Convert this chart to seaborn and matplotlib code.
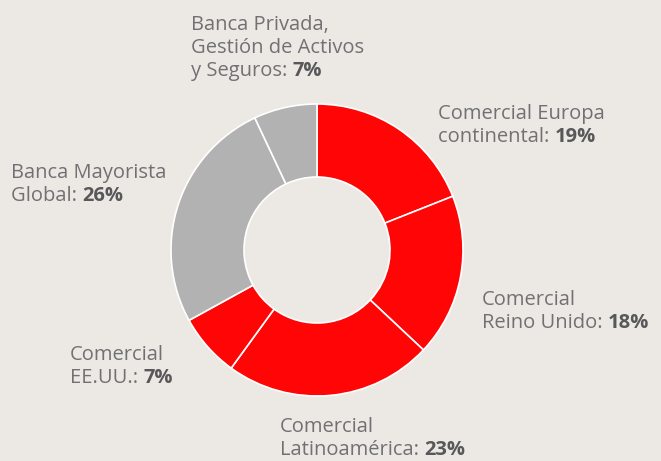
import matplotlib
matplotlib.use("Agg")
import matplotlib.pyplot as plt
import seaborn as sns

# datos del gráfico (sentido horario desde arriba)
segmentos = [["Comercial Europa", "continental: "],
             ["Comercial", "Reino Unido: "],
             ["Comercial", "Latinoamérica: "],
             ["Comercial", "EE.UU.: "],
             ["Banca Mayorista", "Global: "],
             ["Banca Privada,", "Gestión de Activos", "y Seguros: "]]
porcentajes = [19, 18, 23, 7, 26, 7]
colores = ["#ff0505", "#ff0505", "#ff0505", "#ff0505", "#b2b2b2", "#b2b2b2"]

# posición de cada etiqueta: x izquierda y línea base de la 1ª línea (px desde arriba-izquierda)
pos_etiquetas = [(438, 119), (482, 305), (280, 432),
                 (70, 360), (11, 178), (191, 30)]
PASO = 23  # interlineado en px

sns.set_theme(style="white")
plt.rcParams["font.family"] = ["Open Sans", "DejaVu Sans"]

fondo = "#ece9e4"
gris_txt = "#717173"
gris_bold = "#58585a"
FS = 14.5

W, H = 661, 461
fig = plt.figure(figsize=(W / 100, H / 100), dpi=100, facecolor=fondo)
cx, cy, r = 317 / W, 1 - 250 / H, 146
ax = fig.add_axes([cx - r / W, cy - r / H, 2 * r / W, 2 * r / H])
ax.set_facecolor(fondo)

ax.pie(porcentajes, colors=colores, startangle=90, counterclock=False, radius=1,
       wedgeprops=dict(width=0.5, edgecolor="white", linewidth=1.2))
ax.set_xlim(-1, 1)
ax.set_ylim(-1, 1)
ax.set_aspect("equal")
ax.axis("off")

fig.canvas.draw()
for lineas, pct, (px, py) in zip(segmentos, porcentajes, pos_etiquetas):
    for i, linea in enumerate(lineas):
        t = fig.text(px / W, 1 - (py + i * PASO) / H, linea, fontsize=FS, color=gris_txt,
                     ha="left", va="baseline")
    # el porcentaje en negrita sigue a la última línea
    ancho = t.get_window_extent().width
    fig.text((px + ancho) / W, 1 - (py + (len(lineas) - 1) * PASO) / H, f"{pct}%",
             fontsize=FS, color=gris_bold, fontweight="bold", ha="left", va="baseline")

fig.savefig("out.png", dpi=100, facecolor=fondo)
